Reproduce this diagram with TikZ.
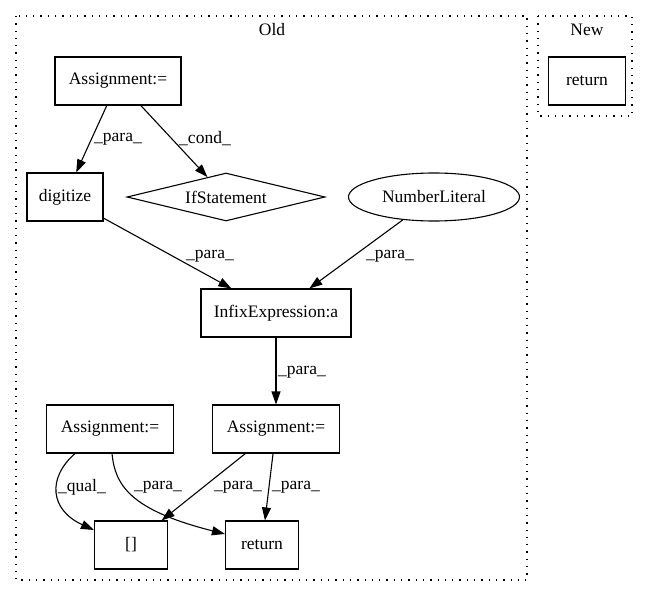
\documentclass[tikz,border=0pt]{standalone}
\usepackage{fontspec}
\setmainfont{Liberation Serif}
\usetikzlibrary{shapes.geometric,arrows.meta,calc}
\begin{document}
\begin{tikzpicture}[x=1pt,y=-1pt,
  every node/.style={font=\fontsize{17.5}{20}\selectfont},
  box/.style={draw,line width=1.1pt,rectangle,minimum height=48pt,inner sep=0pt},
  arr/.style={line width=1.1pt,-{Triangle[length=13pt,width=9pt]}},
  lbl/.style={inner sep=1pt},
  cluster/.style={line width=1.3pt,dash pattern=on 1.3pt off 6pt}]
\useasboundingbox (0,0) rectangle (648,596);
\draw[cluster] (16,16) rectangle (527,580);
\draw[cluster] (538,16) rectangle (632,116);
\node (oldl) at (272,30) {Old};
\node (newl) at (587,30) {New};
\node[box,minimum width=77pt] (retNew) at (587,81) {return};
\node[box,minimum width=126pt] (asgTop) at (118,81) {Assignment:=};
\node[box,minimum width=76pt] (dig) at (65,197) {digitize};
\node[draw,line width=1.1pt,diamond,aspect=4.125,minimum width=198pt,minimum height=48pt,inner sep=0pt] (ifs) at (226,197) {IfStatement};
\node[draw,line width=1.1pt,ellipse,minimum width=171pt,minimum height=48pt,inner sep=0pt] (nl) at (434,197) {NumberLiteral};
\node[box,minimum width=150pt] (infix) at (276,313) {InfixExpression:a};
\node[box,minimum width=127pt] (asgR) at (276,429) {Assignment:=};
\node[box,minimum width=127pt] (asgL) at (110,429) {Assignment:=};
\node[box,minimum width=73pt] (br) at (131,545) {[]};
\node[box,minimum width=73pt] (ret) at (262,545) {return};
\draw[arr] (asgTop) -- (dig);
\draw[arr] (asgTop) -- (ifs);
\draw[arr] (dig) -- (infix);
\draw[arr] (nl) -- (infix);
\draw[arr] (infix) -- (asgR);
\draw[arr] (asgR) -- (br);
\draw[arr] (asgR) -- (ret);
\draw[arr] ([xshift=-35pt]asgL.south) .. controls (47,478) and (50,510) .. ([yshift=15pt]br.west);
\draw[arr] ([xshift=2pt]asgL.south) .. controls (115,485) and (130,510) .. ([yshift=11pt]ret.west);
\node[lbl] (l1) at (118,139) {\_para\_};
\node[lbl] (l2) at (205,139) {\_cond\_};
\node[lbl] (l3) at (210,256) {\_para\_};
\node[lbl] (l4) at (390,256) {\_para\_};
\node[lbl] (l5) at (302,372) {\_para\_};
\node[lbl] (l6) at (82,487) {\_qual\_};
\node[lbl] (l7) at (158,487) {\_para\_};
\node[lbl] (l8) at (238,487) {\_para\_};
\node[lbl] (l9) at (296,487) {\_para\_};
\end{tikzpicture}
\end{document}
